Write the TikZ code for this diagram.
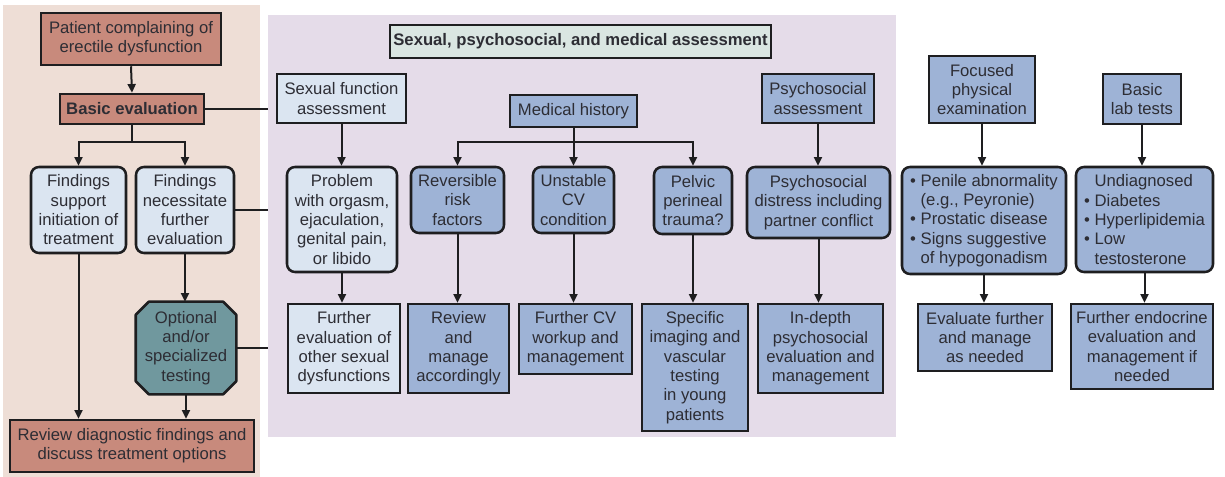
\documentclass[tikz,border=0pt]{standalone}
\usepackage{fontspec}
\setmainfont{Liberation Sans}
\usetikzlibrary{arrows.meta}
\definecolor{pinkbg}{RGB}{238,222,214}
\definecolor{purplebg}{RGB}{229,220,233}
\definecolor{brownbox}{RGB}{200,138,124}
\definecolor{lightblue}{RGB}{219,229,241}
\definecolor{midblue}{RGB}{158,179,214}
\definecolor{tealbox}{RGB}{112,152,158}
\definecolor{titlebox}{RGB}{218,230,226}
\definecolor{ink}{RGB}{30,30,32}
\definecolor{txt}{RGB}{45,45,52}
\pgfdeclarelayer{back}
\pgfdeclarelayer{mid}
\pgfsetlayers{back,mid,main}
\tikzset{
  boxbase/.style={draw=ink, line width=1.9pt, inner sep=0pt, align=center, text=txt,
    font=\fontsize{12.5}{14.5}\selectfont},
  boxbrown/.style={boxbase, fill=brownbox},
  boxlb/.style={boxbase, fill=lightblue},
  boxmb/.style={boxbase, fill=midblue},
  boxlbr/.style={boxlb, rounded corners=6pt},
  boxmbr/.style={boxmb, rounded corners=6pt},
  boxoct/.style={boxbase, draw=none},
  octpath/.style={draw=ink, line width=1.9pt, fill=tealbox, line join=round},
  boxtitle/.style={boxbase, fill=titlebox},
  bgarea/.style={draw=none, inner sep=0pt},
  conn/.style={draw=ink, line width=1.5pt},
  arr/.style={conn, -{Triangle[length=6.5pt,width=6pt]}},
}
\newcommand\mybox[7]{\node[#1, minimum width={0.75pt*(#5-#3)}, minimum height={0.75pt*(#6-#4)}] (#2) at ({(#3+#5)/2},{(#4+#6)/2}) {#7};}
\begin{document}
\begin{tikzpicture}[x=0.75pt,y=-0.75pt]
\useasboundingbox (0,0) rectangle (1225,477);
% background areas
\begin{pgfonlayer}{back}
\mybox{bgarea, fill=pinkbg}{pinkarea}{3}{5}{260}{477}{}
\mybox{bgarea, fill=purplebg}{assess}{268}{15}{896}{437}{}
\end{pgfonlayer}
% left column
\mybox{boxbrown}{pat}{41}{13}{221}{65}{Patient complaining of\\erectile dysfunction}
\mybox{boxbrown, font=\fontsize{12.5}{14.5}\selectfont\bfseries}{be}{60}{94}{204}{124}{Basic evaluation}
\mybox{boxlbr}{fs}{31}{167}{126}{253}{Findings\\support\\initiation of\\treatment}
\mybox{boxlbr}{fn}{136}{167}{234}{253}{Findings\\necessitate\\further\\evaluation}
\mybox{boxoct}{opt}{137}{303}{235}{393}{Optional\\and/or\\specialized\\testing}
\begin{pgfonlayer}{mid}
\path[octpath] ([xshift=9.75pt]opt.north west) -- ([xshift=-9.75pt]opt.north east)
  -- ([yshift=-9.75pt]opt.north east) -- ([yshift=9.75pt]opt.south east)
  -- ([xshift=-9.75pt]opt.south east) -- ([xshift=9.75pt]opt.south west)
  -- ([yshift=9.75pt]opt.south west) -- ([yshift=-9.75pt]opt.north west) -- cycle;
\end{pgfonlayer}
\mybox{boxbrown}{rev}{10}{420}{254}{472}{Review diagnostic findings and\\discuss treatment options}
% assessment area
\mybox{boxtitle, font=\fontsize{12.5}{14.5}\selectfont\bfseries}{title}{390}{25}{771}{58}{Sexual, psychosocial, and medical assessment}
\mybox{boxlb}{sfa}{277}{74}{406}{123}{Sexual function\\assessment}
\mybox{boxmb}{mh}{510}{95}{637}{127}{Medical history}
\mybox{boxmb}{psa}{762}{74}{874}{123}{Psychosocial\\assessment}
\mybox{boxlbr}{prob}{287}{167}{397}{272}{Problem\\with orgasm,\\ejaculation,\\genital pain,\\or libido}
\mybox{boxmbr}{rrf}{411}{167}{504}{233}{Reversible\\risk\\factors}
\mybox{boxmbr}{ucv}{533}{167}{614}{233}{Unstable\\CV\\condition}
\mybox{boxmbr}{ppt}{654}{167}{732}{234}{Pelvic\\perineal\\trauma?}
\mybox{boxmbr}{pdist}{747}{167}{890}{238}{Psychosocial\\distress including\\partner conflict}
\mybox{boxlb}{fe}{288}{304}{400}{393}{Further\\evaluation of\\other sexual\\dysfunctions}
\mybox{boxmb}{ram}{408}{304}{509}{393}{Review\\and\\manage\\accordingly}
\mybox{boxmb}{fcv}{519}{304}{632}{374}{Further CV\\workup and\\management}
\mybox{boxmb}{sit}{642}{304}{748}{431}{Specific\\imaging and\\vascular\\testing\\in young\\patients}
\mybox{boxmb}{ind}{758}{304}{883}{393}{In-depth\\psychosocial\\evaluation and\\management}
% right columns
\mybox{boxmb}{fpe}{929}{56}{1035}{123}{Focused\\physical\\examination}
\mybox{boxmb}{blt}{1103}{74}{1181}{124}{Basic\\lab tests}
\mybox{boxmbr, align=left}{pen}{902}{167}{1066}{274}{• Penile abnormality\\\phantom{• }(e.g., Peyronie)\\• Prostatic disease\\• Signs suggestive\\\phantom{• }of hypogonadism}
\mybox{boxmbr, align=left}{und}{1076}{167}{1213}{272}{\phantom{• }Undiagnosed\\• Diabetes\\• Hyperlipidemia\\• Low\\\phantom{• }testosterone}
\mybox{boxmb}{efm}{918}{304}{1052}{371}{Evaluate further\\and manage\\as needed}
\mybox{boxmb}{fen}{1071}{304}{1213}{389}{Further endocrine\\evaluation and\\management if\\needed}
% connectors: left column
\draw[arr] (pat.south) -- (be.north);
\draw[conn] (be.south) -- ++(0,17) coordinate (bj);
\draw[arr] (bj) -| (fs.north);
\draw[arr] (bj) -| (fn.north);
\draw[arr] (fn.south) -- (fn.south |- opt.north);
\draw[arr] (fs.south) -- (fs.south |- rev.north);
\draw[arr] (opt.south) -- (opt.south |- rev.north);
\draw[conn] (be.east) -- (be.east -| assess.west);
\draw[conn] (fn.east) -- (fn.east -| assess.west);
\draw[conn] (opt.east) -- (opt.east -| assess.west);
% connectors: assessment
\draw[arr] (sfa.south) -- (sfa.south |- prob.north);
\draw[arr] (prob.south) -- (prob.south |- fe.north);
\draw[conn] (mh.south) -- ++(0,14) coordinate (mj);
\draw[arr] (mj) -| (rrf.north);
\draw[arr] (mj) -- (mj -| ucv.north) -- (ucv.north);
\draw[arr] (mj) -| (ppt.north);
\draw[arr] (psa.south) -- (psa.south |- pdist.north);
\draw[arr] (rrf.south) -- (rrf.south |- ram.north);
\draw[arr] (ucv.south) -- (ucv.south |- fcv.north);
\draw[arr] (ppt.south) -- (ppt.south |- sit.north);
\draw[arr] (pdist.south) -- (pdist.south |- ind.north);
% connectors: right
\draw[arr] (fpe.south) -- (fpe.south |- pen.north);
\draw[arr] (blt.south) -- (blt.south |- und.north);
\draw[arr] (pen.south) -- (pen.south |- efm.north);
\draw[arr] (und.south) -- (und.south |- fen.north);
\end{tikzpicture}
\end{document}
